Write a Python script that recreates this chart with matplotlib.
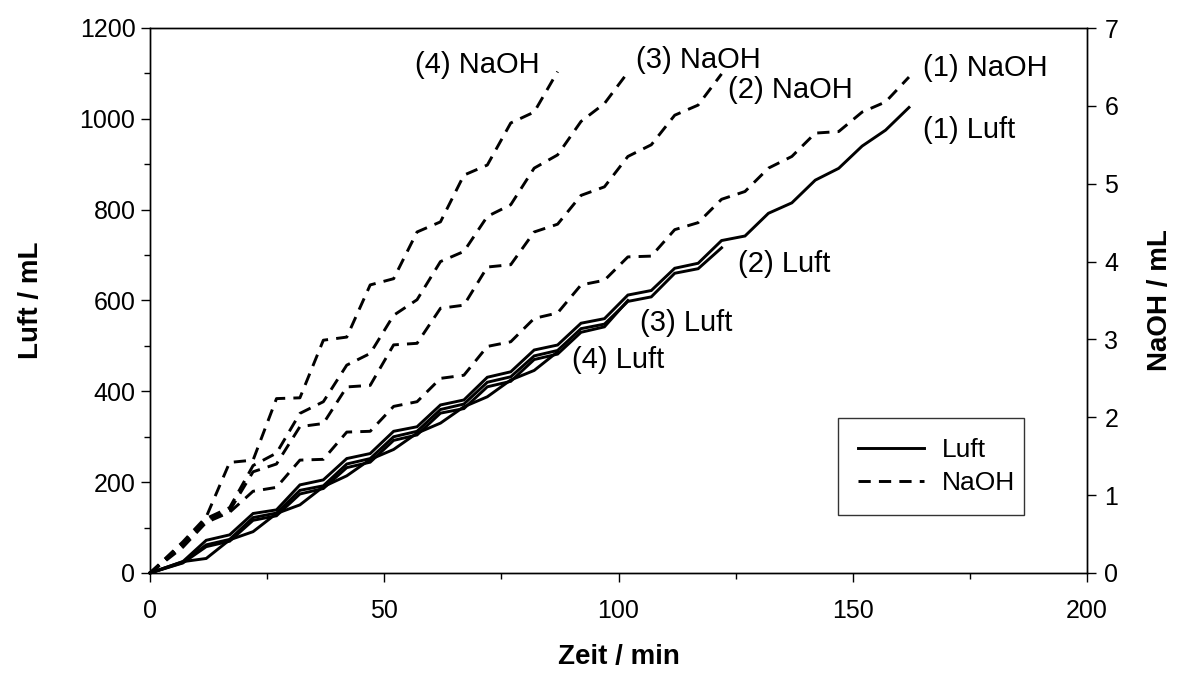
import matplotlib
matplotlib.use("Agg")
import matplotlib.pyplot as plt
from matplotlib.ticker import MultipleLocator

plt.rcParams['font.family'] = ['Liberation Sans', 'DejaVu Sans']

# ---- data ----
t1 = [0, 7, 12, 17, 22, 27, 32, 37, 42, 47, 52, 57, 62, 67, 72, 77, 82, 87, 92, 97,
      102, 107, 112, 117, 122, 127, 132, 137, 142, 147, 152, 157, 162]
t2 = t1[:25]   # up to 122 min
t3 = t1[:21]   # up to 102 min
t4 = t1[:18]   # up to 87 min

luft1 = [0, 25, 72, 84, 131, 139, 194, 205, 252, 263, 312, 322, 370, 381, 431, 443, 491, 502,
         550, 560, 612, 622, 671, 682, 732, 742, 792, 815, 865, 891, 940, 975, 1025]
luft2 = [0, 23, 62, 74, 122, 132, 182, 192, 240, 252, 300, 312, 360, 372, 420, 432, 478, 490,
         538, 548, 598, 608, 660, 670, 716]
luft3 = [0, 22, 58, 70, 116, 126, 174, 186, 232, 244, 292, 304, 352, 362, 410, 422, 470, 482,
         530, 542, 600]
luft4 = [0, 25, 32, 73, 91, 131, 150, 190, 214, 250, 272, 308, 330, 366, 388, 425, 446, 487]

naoh1 = [0, 0.33, 0.65, 0.78, 1.05, 1.10, 1.45, 1.46, 1.81, 1.82, 2.14, 2.20, 2.50, 2.54,
         2.91, 2.97, 3.27, 3.34, 3.70, 3.76, 4.06, 4.07, 4.41, 4.50, 4.80, 4.90, 5.20, 5.35,
         5.65, 5.67, 5.92, 6.05, 6.37]
naoh2 = [0, 0.36, 0.68, 0.80, 1.30, 1.40, 1.88, 1.92, 2.39, 2.41, 2.93, 2.95, 3.40, 3.44,
         3.93, 3.96, 4.38, 4.48, 4.85, 4.96, 5.35, 5.50, 5.88, 6.01, 6.41]
naoh3 = [0, 0.38, 0.70, 0.84, 1.38, 1.54, 2.05, 2.20, 2.67, 2.82, 3.31, 3.51, 4.00, 4.13,
         4.58, 4.73, 5.20, 5.37, 5.80, 6.03, 6.43]
naoh4 = [0, 0.40, 0.72, 1.42, 1.45, 2.24, 2.25, 2.99, 3.03, 3.70, 3.78, 4.38, 4.51, 5.11,
         5.24, 5.78, 5.92, 6.44]

x_ticks = [0, 50, 100, 150, 200]
yl_ticks = [0, 200, 400, 600, 800, 1000, 1200]
yr_ticks = [0, 1, 2, 3, 4, 5, 6, 7]

labels_txt = ["(4) NaOH", "(3) NaOH", "(2) NaOH", "(1) NaOH",
              "(1) Luft", "(2) Luft", "(3) Luft", "(4) Luft"]
labels_pos = [(56.6, 1118), (103.7, 1130), (123.4, 1063), (165.0, 1111),
              (165.0, 975), (125.5, 680), (104.6, 551), (90.0, 470)]

# ---- figure ----
W, H = 1177, 679
fig = plt.figure(figsize=(W / 100, H / 100), dpi=100)
L, R, T, B = 150, 1087, 28, 573
ax = fig.add_axes([L / W, 1 - B / H, (R - L) / W, (B - T) / H])
ax2 = ax.twinx()

lw = 2.1
dash = (4.2, 2.8)
for i, (t, y) in enumerate([(t1, luft1), (t2, luft2), (t3, luft3), (t4, luft4)]):
    ax.plot(t, y, color='black', lw=lw, solid_joinstyle='miter',
            label='Luft' if i == 0 else None, clip_on=False)
for i, (t, y) in enumerate([(t1, naoh1), (t2, naoh2), (t3, naoh3), (t4, naoh4)]):
    ax2.plot(t, y, color='black', lw=lw, dashes=dash,
             label='NaOH' if i == 0 else None, clip_on=False)

ax.set_xlim(0, 200)
ax.set_ylim(0, 1200)
ax2.set_ylim(0, 7)
ax.set_xticks(x_ticks)
ax.set_yticks(yl_ticks)
ax2.set_yticks(yr_ticks)
ax.xaxis.set_minor_locator(MultipleLocator(25))
ax.yaxis.set_minor_locator(MultipleLocator(100))

fs = 18
ax.tick_params(axis='both', which='major', direction='out', length=6.5, width=1,
               labelsize=fs, pad=4)
ax.tick_params(axis='x', which='major', pad=12)
ax.tick_params(axis='both', which='minor', direction='out', length=4.5, width=1)
ax2.tick_params(axis='y', which='major', direction='out', length=6.5, width=1,
                labelsize=fs, pad=6)
for a in (ax, ax2):
    for s in a.spines.values():
        s.set_linewidth(1.0)

lfs = 20
ax.set_xlabel('Zeit / min', fontsize=lfs, fontweight='bold')
ax.set_ylabel('Luft / mL', fontsize=lfs, fontweight='bold')
ax2.set_ylabel('NaOH / mL', fontsize=lfs, fontweight='bold', rotation=90)
ax.xaxis.set_label_coords(0.5, -0.13)
ax.yaxis.set_label_coords(-0.113, 0.5)
ax2.yaxis.set_label_coords(1.064, 0.5)

for s, (x, y) in zip(labels_txt, labels_pos):
    ax.text(x, y, s, fontsize=21, ha='left', va='center')

h1, l1 = ax.get_legend_handles_labels()
h2, l2 = ax2.get_legend_handles_labels()
leg = ax2.legend(h1 + h2, l1 + l2, loc='lower left',
                 bbox_to_anchor=(0.734, 0.106, 0.1985, 0.171), mode='expand',
                 fontsize=19, frameon=True, fancybox=False, borderaxespad=0,
                 handlelength=2.5, handletextpad=0.7, labelspacing=0.35,
                 borderpad=0.75)
leg.get_frame().set_edgecolor('black')
leg.get_frame().set_linewidth(1.0)

fig.savefig('out.png', dpi=100)
